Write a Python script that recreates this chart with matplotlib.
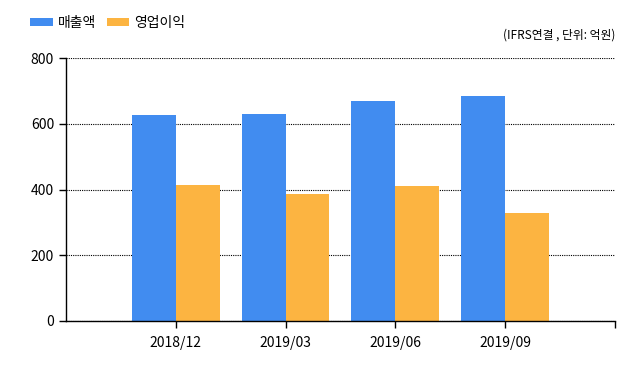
import matplotlib
matplotlib.use('Agg')
import matplotlib.pyplot as plt
import numpy as np

plt.rcParams['font.family'] = ['Noto Sans CJK KR', 'DejaVu Sans']

# 분기별 실적 (단위: 억원)
quarters = ['2018/12', '2019/03', '2019/06', '2019/09']
sales = [626, 629, 669, 684]
op_profit = [413, 386, 410, 328]

blue = '#418cf0'
orange = '#fcb441'

fig = plt.figure(figsize=(6.4, 3.68), dpi=100)
ax = fig.add_axes([0.103, 0.128, 0.858, 0.714])

x = np.arange(len(quarters))
w = 0.4
ax.bar(x - w / 2, sales, w, color=blue, label='매출액', zorder=2)
ax.bar(x + w / 2, op_profit, w, color=orange, label='영업이익', zorder=2)

ax.set_xlim(-1, 4)
ax.set_ylim(0, 800)
ax.set_yticks([0, 200, 400, 600, 800])
ax.set_xticks(list(x) + [4])
ax.set_xticklabels(quarters + [''])
ax.tick_params(axis='both', labelsize=10, length=5, width=1, color='black')
ax.tick_params(axis='x', pad=6)

ax.grid(axis='y', color='black', linestyle=(0, (1, 1)), linewidth=0.8, zorder=0)
for s in ['top', 'right']:
    ax.spines[s].set_visible(False)
ax.spines['left'].set_linewidth(1)
ax.spines['bottom'].set_linewidth(1)

fig.legend(loc='upper left', bbox_to_anchor=(0.028, 0.99), ncol=2, frameon=False,
           fontsize=10, handlelength=1.6, handleheight=0.5, columnspacing=0.8,
           handletextpad=0.35)

fig.text(0.961, 0.905, '(IFRS연결 , 단위: 억원)', ha='right', va='center', fontsize=8.5)

fig.savefig('out.png', dpi=100)
